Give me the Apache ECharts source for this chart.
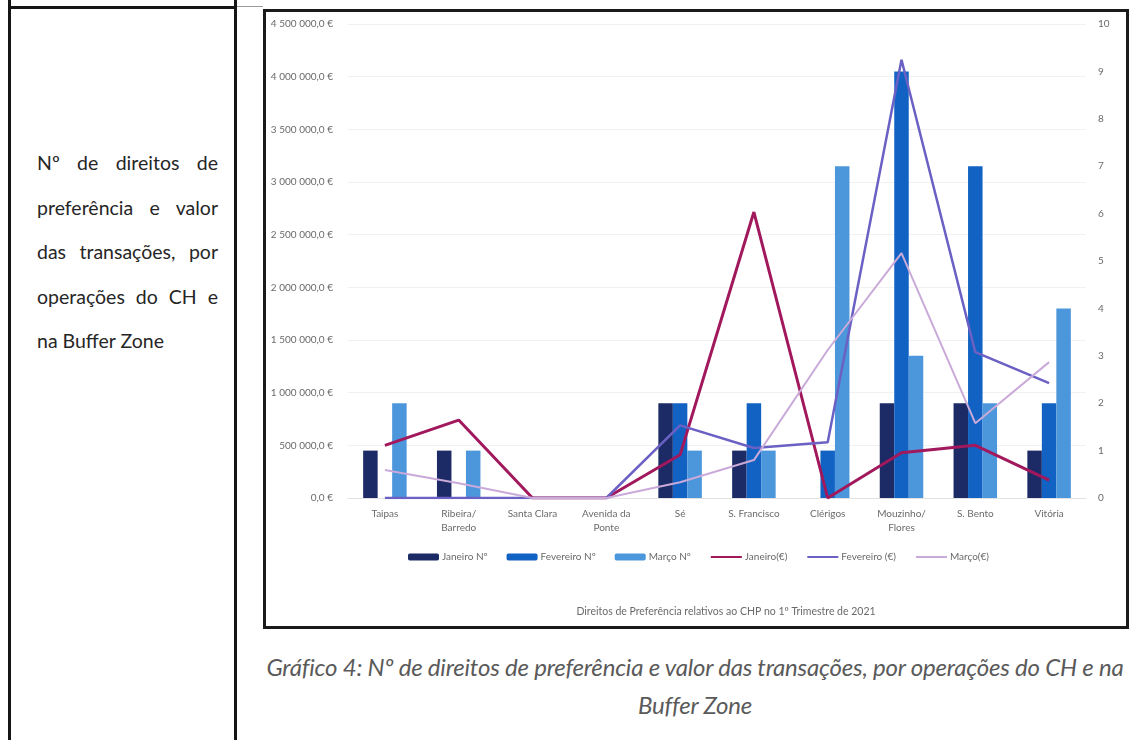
<!DOCTYPE html>
<html lang="pt">
<head>
<meta charset="utf-8">
<title>Direitos de Preferência – 1º Trimestre de 2021</title>
<script src="https://cdn.jsdelivr.net/npm/echarts@6/dist/echarts.min.js"></script>
<style>
  html, body { margin: 0; padding: 0; background: #ffffff; }
  body { width: 1132px; height: 740px; position: relative; overflow: hidden; font-family: Lato, "Open Sans", sans-serif; }
  .rule { position: absolute; background: #151515; }
  #box { position: absolute; left: 263px; top: 9px; width: 866px; height: 620px; border: 3px solid #1a1a1a; box-sizing: border-box; }
  #side { position: absolute; left: 37px; top: 141px; width: 181px; font-size: 19.5px; line-height: 44.5px; color: #262626; }
  #side div { text-align: justify; text-align-last: justify; white-space: nowrap; }
  #side div.last { text-align-last: left; }
  #caption { position: absolute; left: 235px; top: 648px; width: 920px; text-align: center; font-style: italic; font-size: 24px; line-height: 38px; color: #5a5a5a; white-space: nowrap; letter-spacing: -0.2px; }
  #chart { position: absolute; left: 0; top: 0; width: 1132px; height: 740px; z-index: 2; }
</style>
</head>
<body>
<div class="rule" style="left:8px;top:0;width:3px;height:740px"></div>
<div class="rule" style="left:234px;top:0;width:3px;height:740px"></div>
<div class="rule" style="left:8px;top:6px;width:229px;height:3px"></div>
<div class="rule" style="left:237px;top:6px;width:26px;height:1px;background:#9a9a9a"></div>
<div id="box"></div>

<div id="side">
  <div>Nº de direitos de</div>
  <div>preferência e valor</div>
  <div>das transações, por</div>
  <div>operações do CH e</div>
  <div class="last">na Buffer Zone</div>
</div>

<div id="caption">Gráfico 4: Nº de direitos de preferência e valor das transações, por operações do CH e na<br>Buffer Zone</div>

<div id="chart"></div>

<script>
// Zonas do Centro Histórico / Buffer Zone
const categories = ['Taipas', 'Ribeira/\nBarredo', 'Santa Clara', 'Avenida da\nPonte', 'Sé',
                    'S. Francisco', 'Clérigos', 'Mouzinho/\nFlores', 'S. Bento', 'Vitória'];

// Número de direitos de preferência (eixo da direita)
const janeiroN   = [1, 1, 0, 0, 2, 1, 0, 2, 2, 1];
const fevereiroN = [0, 0, 0, 0, 2, 2, 1, 9, 7, 2];
const marcoN     = [2, 1, 0, 0, 1, 1, 7, 3, 2, 4];

// Valor das transações em euros (eixo da esquerda)
const janeiroEur   = [500000, 740000, 0, 0, 410000, 2715000, 0, 430000, 500000, 170000];
const fevereiroEur = [0, 0, 0, 0, 690000, 475000, 530000, 4160000, 1385000, 1090000];
const marcoEur     = [265000, 140000, 0, 0, 150000, 360000, 1405000, 2325000, 710000, 1290000];

const seriesNames = ['Janeiro Nº', 'Fevereiro Nº', 'Março Nº', 'Janeiro(€)', 'Fevereiro (€)', 'Março(€)'];
const chartTitle = 'Direitos de Preferência relativos ao CHP no 1º Trimestre de 2021';

const colors = {
  janN: '#1c2a66', fevN: '#1262c4', marN: '#4c97dc',
  janE: '#a1195c', fevE: '#6b60c4', marE: '#c9aad9'
};

function euro(v) {
  const s = String(Math.round(v)).replace(/\B(?=(\d{3})+(?!\d))/g, ' ');
  return s + ',0 €';
}

const fontFamily = 'Lato, "Open Sans", sans-serif';
const labelFont = { fontFamily, fontSize: 10, color: '#6a6a6a' };

const chart = echarts.init(document.getElementById('chart'), null, { renderer: 'canvas' });

const barSeries = (name, data, color) => ({
  name, type: 'bar', yAxisIndex: 1, data,
  barWidth: 14.5, barGap: '0%',
  itemStyle: { color }
});
const lineSeries = (name, data, color, width) => ({
  name, type: 'line', yAxisIndex: 0, data,
  symbol: 'none', lineStyle: { color, width }, itemStyle: { color }, z: 3
});

// line entries in the legend show only the stroke, no marker
const lineLegend = name => ({ name, itemStyle: { opacity: 0 } });

chart.setOption({
  backgroundColor: 'transparent',
  animation: false,
  title: {
    text: chartTitle, left: 721, top: 601, textAlign: 'center',
    textStyle: { fontFamily, fontSize: 10.5, fontWeight: 'normal', color: '#6a6a6a' }
  },
  legend: {
    left: 403, top: 547, itemGap: 19, itemWidth: 31, itemHeight: 7,
    textStyle: Object.assign({}, labelFont, { padding: [0, 0, 0, -2] }),
    data: [
      { name: seriesNames[0], icon: 'roundRect' },
      { name: seriesNames[1], icon: 'roundRect' },
      { name: seriesNames[2], icon: 'roundRect' },
      lineLegend(seriesNames[3]),
      lineLegend(seriesNames[4]),
      lineLegend(seriesNames[5])
    ]
  },
  grid: { left: 348, right: 46, top: 24, bottom: 242, containLabel: false },
  xAxis: {
    type: 'category', data: categories,
    axisLine: { show: true, lineStyle: { color: '#e2e2e2' } },
    axisTick: { show: false },
    axisLabel: Object.assign({}, labelFont, { interval: 0, margin: 9, lineHeight: 14 })
  },
  yAxis: [
    {
      type: 'value', min: 0, max: 4500000, interval: 500000, position: 'left',
      axisLine: { show: false }, axisTick: { show: false },
      axisLabel: Object.assign({}, labelFont, { margin: 15, formatter: euro }),
      splitLine: { show: true, lineStyle: { color: '#f1f1f1', width: 1 } }
    },
    {
      type: 'value', min: 0, max: 10, interval: 1, position: 'right',
      axisLine: { show: false }, axisTick: { show: false },
      axisLabel: Object.assign({}, labelFont, { margin: 12 }),
      splitLine: { show: false }
    }
  ],
  series: [
    barSeries(seriesNames[0], janeiroN, colors.janN),
    barSeries(seriesNames[1], fevereiroN, colors.fevN),
    barSeries(seriesNames[2], marcoN, colors.marN),
    lineSeries(seriesNames[3], janeiroEur, colors.janE, 3),
    lineSeries(seriesNames[4], fevereiroEur, colors.fevE, 2.5),
    lineSeries(seriesNames[5], marcoEur, colors.marE, 2)
  ]
});
</script>
</body>
</html>
